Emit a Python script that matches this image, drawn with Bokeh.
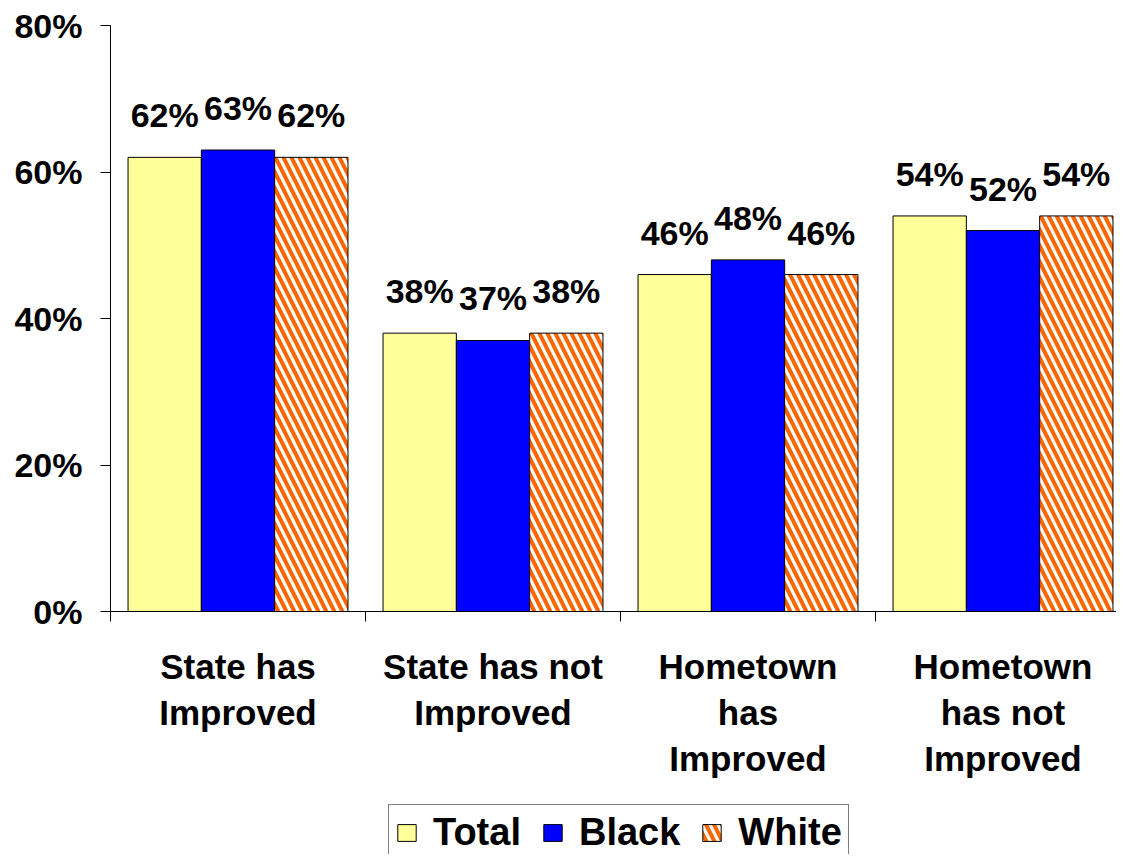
from bokeh.plotting import figure
from bokeh.layouts import column
from bokeh.models import Range1d, FixedTicker, Legend, LegendItem, ColumnDataSource
from bokeh.core.properties import value
from bokeh.embed import file_html
from bokeh.resources import INLINE

categories = ["State has\nImproved", "State has not\nImproved",
              "Hometown\nhas\nImproved", "Hometown\nhas not\nImproved"]
series_names = ["Total", "Black", "White"]
total = [62, 38, 46, 54]
black = [63, 37, 48, 52]
white = [62, 38, 46, 54]
y_ticks = [0, 20, 40, 60, 80]
y_tick_labels = ["0%", "20%", "40%", "60%", "80%"]

FONT = "Liberation Sans"
BW = 0.2875

p = figure(width=1116, height=796, output_backend="svg", toolbar_location=None,
           x_range=Range1d(0, 1006 / 255), y_range=Range1d(0, 80),
           min_border_left=110, min_border_right=0, min_border_top=25,
           min_border_bottom=185)
p.outline_line_color = None
p.xgrid.visible = False
p.ygrid.visible = False
p.background_fill_color = "white"
p.border_fill_color = "white"

centers = [i + 0.5 for i in range(len(categories))]
styles = [
    dict(fill_color="#FFFF99"),
    dict(fill_color="#0000FF"),
    dict(fill_color="white", hatch_pattern="\\", hatch_color="#FF6600",
         hatch_scale=16, hatch_weight=4),
]
for k, vals in enumerate([total, black, white]):
    xs = [c + (k - 1) * BW for c in centers]
    src = ColumnDataSource(dict(x=xs, top=vals, lab=[f"{v}%" for v in vals]))
    p.vbar(x="x", top="top", width=BW, bottom=0, source=src,
           line_color="black", line_width=1, **styles[k])
    p.text(x="x", y="top", text="lab", source=src, text_align="center",
           text_baseline="alphabetic", y_offset=-42,
           text_font=value(FONT), text_font_style="bold", text_font_size="34px",
           text_color="black")

# y axis
p.yaxis.ticker = FixedTicker(ticks=y_ticks, minor_ticks=[])
p.yaxis.major_label_overrides = {t: l for t, l in zip(y_ticks, y_tick_labels)}
p.yaxis.major_tick_out = 10
p.yaxis.major_tick_in = 0
p.yaxis.minor_tick_out = 0
p.yaxis.minor_tick_in = 0
p.yaxis.major_label_standoff = 18
p.yaxis.major_label_text_font = FONT
p.yaxis.major_label_text_font_style = "bold"
p.yaxis.major_label_text_font_size = "34px"
p.yaxis.major_label_text_color = "black"
p.yaxis.axis_line_color = "black"
p.yaxis.major_tick_line_color = "black"

# x axis
p.xaxis.ticker = FixedTicker(ticks=centers, minor_ticks=[0, 1, 2, 3, 4])
p.xaxis.major_label_overrides = {c: l for c, l in zip(centers, categories)}
p.xaxis.major_tick_out = 0
p.xaxis.major_tick_in = 0
p.xaxis.minor_tick_out = 10
p.xaxis.minor_tick_in = 0
p.xaxis.minor_tick_line_color = "black"
p.xaxis.axis_line_color = "black"
p.xaxis.major_label_standoff = 25
p.xaxis.major_label_text_font = FONT
p.xaxis.major_label_text_font_style = "bold"
p.xaxis.major_label_text_font_size = "35px"
p.xaxis.major_label_text_line_height = 1.185
p.xaxis.major_label_text_color = "black"

# legend strip (separate canvas so the box can run off the bottom edge)
q = figure(width=1116, height=58, output_backend="svg", toolbar_location=None,
           x_range=Range1d(0, 1), y_range=Range1d(0, 1),
           x_axis_location=None, y_axis_location=None,
           min_border_left=0, min_border_right=0, min_border_top=0, min_border_bottom=0)
q.outline_line_color = None
q.xgrid.visible = False
q.ygrid.visible = False
q.background_fill_color = "white"
q.border_fill_color = "white"
offscreen = ColumnDataSource(dict(x=[10], top=[1]))
legend_renderers = [q.vbar(x="x", top="top", width=0.1, source=offscreen,
                           line_color="black", line_width=1, **s) for s in styles]

legend = Legend(items=[LegendItem(label=n, renderers=[r]) for n, r in zip(series_names, legend_renderers)],
                location=(278, -7), orientation="horizontal",
                glyph_width=23, glyph_height=21, label_standoff=15, spacing=20,
                padding=6, margin=0, border_line_color="black", border_line_width=1,
                background_fill_color="white", background_fill_alpha=1,
                label_text_font=FONT, label_text_font_style="bold",
                label_text_font_size="38px", label_text_color="black")
q.add_layout(legend, "center")

layout = column(p, q, spacing=0)
open("out.html", "w").write(file_html(layout, INLINE))
